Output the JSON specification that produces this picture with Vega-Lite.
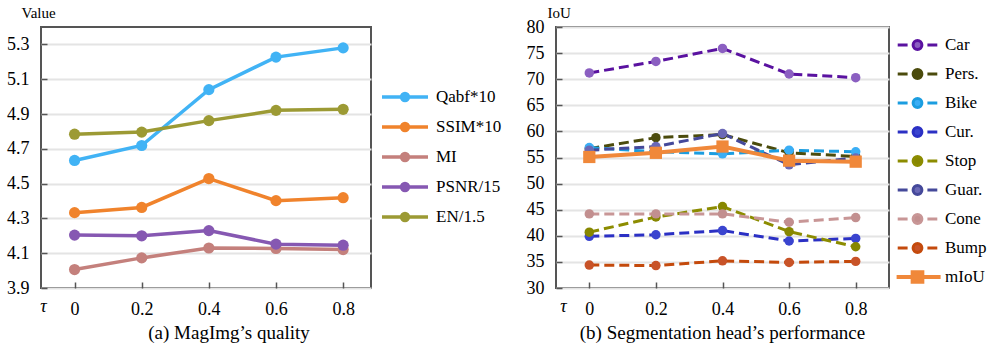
{
  "$schema": "https://vega.github.io/schema/vega-lite/v6.json",
  "padding": {"left": 5, "top": 4, "right": 0, "bottom": 0},
  "background": "white",
  "bounds": "flush",
  "spacing": 185,
  "resolve": {
    "scale": {"color": "independent", "fill": "independent"},
    "legend": {"color": "independent", "fill": "independent"}
  },
  "config": {
    "font": "Liberation Serif",
    "view": {"stroke": "#555555", "strokeWidth": 2},
    "axis": {
      "labelFont": "Liberation Serif",
      "titleFont": "Liberation Serif",
      "labelFontSize": 18,
      "labelColor": "#000000",
      "titleColor": "#000000",
      "titleFontWeight": "normal",
      "gridColor": "#e4e4e4",
      "gridWidth": 2,
      "domain": false,
      "tickColor": "#555555",
      "tickWidth": 1.5,
      "tickSize": -6,
      "labelPadding": 18,
      "labelFlush": false,
      "labelOverlap": false
    },
    "legend": {
      "labelFont": "Liberation Serif",
      "labelFontSize": 17,
      "labelColor": "#000000",
      "padding": 0
    }
  },
  "datasets": {
    "quality": [
      {"tau": 0, "metric": "Qabf*10", "value": 4.633},
      {"tau": 0.2, "metric": "Qabf*10", "value": 4.719},
      {"tau": 0.4, "metric": "Qabf*10", "value": 5.040},
      {"tau": 0.6, "metric": "Qabf*10", "value": 5.227},
      {"tau": 0.8, "metric": "Qabf*10", "value": 5.280},
      {"tau": 0, "metric": "SSIM*10", "value": 4.333},
      {"tau": 0.2, "metric": "SSIM*10", "value": 4.363},
      {"tau": 0.4, "metric": "SSIM*10", "value": 4.529},
      {"tau": 0.6, "metric": "SSIM*10", "value": 4.402},
      {"tau": 0.8, "metric": "SSIM*10", "value": 4.419},
      {"tau": 0, "metric": "MI", "value": 4.006},
      {"tau": 0.2, "metric": "MI", "value": 4.073},
      {"tau": 0.4, "metric": "MI", "value": 4.130},
      {"tau": 0.6, "metric": "MI", "value": 4.127},
      {"tau": 0.8, "metric": "MI", "value": 4.121},
      {"tau": 0, "metric": "PSNR/15", "value": 4.204},
      {"tau": 0.2, "metric": "PSNR/15", "value": 4.200},
      {"tau": 0.4, "metric": "PSNR/15", "value": 4.230},
      {"tau": 0.6, "metric": "PSNR/15", "value": 4.152},
      {"tau": 0.8, "metric": "PSNR/15", "value": 4.146},
      {"tau": 0, "metric": "EN/1.5", "value": 4.784},
      {"tau": 0.2, "metric": "EN/1.5", "value": 4.796},
      {"tau": 0.4, "metric": "EN/1.5", "value": 4.862},
      {"tau": 0.6, "metric": "EN/1.5", "value": 4.921},
      {"tau": 0.8, "metric": "EN/1.5", "value": 4.927}
    ],
    "seg": [
      {"tau": 0, "cls": "Car", "iou": 71.2},
      {"tau": 0.2, "cls": "Car", "iou": 73.4},
      {"tau": 0.4, "cls": "Car", "iou": 75.9},
      {"tau": 0.6, "cls": "Car", "iou": 71.0},
      {"tau": 0.8, "cls": "Car", "iou": 70.3},
      {"tau": 0, "cls": "Pers.", "iou": 56.7},
      {"tau": 0.2, "cls": "Pers.", "iou": 58.8},
      {"tau": 0.4, "cls": "Pers.", "iou": 59.4},
      {"tau": 0.6, "cls": "Pers.", "iou": 55.9},
      {"tau": 0.8, "cls": "Pers.", "iou": 55.2},
      {"tau": 0, "cls": "Bike", "iou": 56.9},
      {"tau": 0.2, "cls": "Bike", "iou": 56.1},
      {"tau": 0.4, "cls": "Bike", "iou": 55.7},
      {"tau": 0.6, "cls": "Bike", "iou": 56.4},
      {"tau": 0.8, "cls": "Bike", "iou": 56.1},
      {"tau": 0, "cls": "Cur.", "iou": 39.9},
      {"tau": 0.2, "cls": "Cur.", "iou": 40.2},
      {"tau": 0.4, "cls": "Cur.", "iou": 41.0},
      {"tau": 0.6, "cls": "Cur.", "iou": 39.0},
      {"tau": 0.8, "cls": "Cur.", "iou": 39.5},
      {"tau": 0, "cls": "Stop", "iou": 40.7},
      {"tau": 0.2, "cls": "Stop", "iou": 43.6},
      {"tau": 0.4, "cls": "Stop", "iou": 45.6},
      {"tau": 0.6, "cls": "Stop", "iou": 40.8},
      {"tau": 0.8, "cls": "Stop", "iou": 37.9},
      {"tau": 0, "cls": "Guar.", "iou": 56.4},
      {"tau": 0.2, "cls": "Guar.", "iou": 57.1},
      {"tau": 0.4, "cls": "Guar.", "iou": 59.6},
      {"tau": 0.6, "cls": "Guar.", "iou": 53.6},
      {"tau": 0.8, "cls": "Guar.", "iou": 54.9},
      {"tau": 0, "cls": "Cone", "iou": 44.2},
      {"tau": 0.2, "cls": "Cone", "iou": 44.2},
      {"tau": 0.4, "cls": "Cone", "iou": 44.2},
      {"tau": 0.6, "cls": "Cone", "iou": 42.6},
      {"tau": 0.8, "cls": "Cone", "iou": 43.5},
      {"tau": 0, "cls": "Bump", "iou": 34.4},
      {"tau": 0.2, "cls": "Bump", "iou": 34.3},
      {"tau": 0.4, "cls": "Bump", "iou": 35.2},
      {"tau": 0.6, "cls": "Bump", "iou": 34.9},
      {"tau": 0.8, "cls": "Bump", "iou": 35.1},
      {"tau": 0, "cls": "mIoU", "iou": 55.1},
      {"tau": 0.2, "cls": "mIoU", "iou": 55.9},
      {"tau": 0.4, "cls": "mIoU", "iou": 57.1},
      {"tau": 0.6, "cls": "mIoU", "iou": 54.4},
      {"tau": 0.8, "cls": "mIoU", "iou": 54.2}
    ]
  },
  "hconcat": [
    {
      "width": 330,
      "height": 261,
      "title": {"text": "(a) MagImg’s quality", "orient": "bottom", "anchor": "middle", "dx": 23, "offset": 6, "fontSize": 19, "font": "Liberation Serif", "fontWeight": "normal", "color": "#000000"},
      "data": {"name": "quality"},
      "encoding": {
        "x": {
          "field": "tau", "type": "quantitative",
          "scale": {"domain": [-0.1, 0.883], "nice": false, "zero": false},
          "axis": {"values": [0, 0.2, 0.4, 0.6, 0.8], "format": "~g", "grid": false, "labelFont": "Liberation Serif", "title": "τ", "titleFont": "Liberation Serif", "titleX": 2, "titleY": 23, "titleAlign": "center", "titleBaseline": "alphabetic", "titleFontSize": 18, "titleFontStyle": "italic"}
        },
        "y": {
          "field": "value", "type": "quantitative",
          "scale": {"domain": [3.9, 5.4], "nice": false, "zero": false},
          "axis": {"values": [3.9, 4.1, 4.3, 4.5, 4.7, 4.9, 5.1, 5.3], "format": ".1f", "grid": true, "labelFont": "Liberation Serif", "title": "Value", "titleFont": "Liberation Serif", "titleAngle": 0, "titleAlign": "left", "titleBaseline": "alphabetic", "titleX": -20, "titleY": -10, "titleFontSize": 15}
        }
      },
      "layer": [
        {
          "mark": {"type": "line", "strokeWidth": 3.5},
          "encoding": {
            "color": {
              "field": "metric", "type": "nominal",
              "scale": {"domain": ["Qabf*10", "SSIM*10", "MI", "PSNR/15", "EN/1.5"], "range": ["#41b3f5", "#f0832c", "#c4807c", "#8658b2", "#9c9a34"]},
              "legend": {
                "orient": "none", "legendX": 339, "legendY": 62, "title": null,
                "labelFont": "Liberation Serif", "labelFontSize": 17,
                "labelOffset": 6, "rowPadding": 13, "clipHeight": 16,
                "symbolSize": 2116, "symbolStrokeWidth": 3.5,
                "symbolType": "M-1,0L1,0M0.15,0A0.15,0.15 0 1,1 -0.15,0A0.15,0.15 0 1,1 0.15,0Z",
                "encode": {"symbols": {"update": {"fill": {"signal": "(datum.value === 'Qabf*10' ? '#41b3f5' : datum.value === 'SSIM*10' ? '#f0832c' : datum.value === 'MI' ? '#c4807c' : datum.value === 'PSNR/15' ? '#8658b2' : '#9c9a34')"}, "opacity": {"value": 1}}}}
              }
            }
          }
        },
        {
          "mark": {"type": "point", "filled": true, "size": 125, "opacity": 1},
          "encoding": {
            "fill": {
              "field": "metric", "type": "nominal",
              "scale": {"domain": ["Qabf*10", "SSIM*10", "MI", "PSNR/15", "EN/1.5"], "range": ["#41b3f5", "#f0832c", "#c4807c", "#8658b2", "#9c9a34"]},
              "legend": null
            }
          }
        }
      ]
    },
    {
      "width": 333,
      "height": 261,
      "title": {"text": "(b) Segmentation head’s performance", "orient": "bottom", "anchor": "middle", "dx": 0, "offset": 6, "fontSize": 19, "font": "Liberation Serif", "fontWeight": "normal", "color": "#000000"},
      "data": {"name": "seg"},
      "encoding": {
        "x": {
          "field": "tau", "type": "quantitative",
          "scale": {"domain": [-0.1, 0.9], "nice": false, "zero": false},
          "axis": {"values": [0, 0.2, 0.4, 0.6, 0.8], "format": "~g", "grid": false, "labelFont": "Liberation Serif", "title": "τ", "titleFont": "Liberation Serif", "titleX": 7, "titleY": 23, "titleAlign": "center", "titleBaseline": "alphabetic", "titleFontSize": 18, "titleFontStyle": "italic"}
        },
        "y": {
          "field": "iou", "type": "quantitative",
          "scale": {"domain": [30, 80], "nice": false, "zero": false},
          "axis": {"values": [30, 35, 40, 45, 50, 55, 60, 65, 70, 75, 80], "format": "d", "grid": true, "labelFont": "Liberation Serif", "title": "IoU", "titleFont": "Liberation Serif", "titleAngle": 0, "titleAlign": "left", "titleBaseline": "alphabetic", "titleX": -9, "titleY": -10, "titleFontSize": 15}
        }
      },
      "layer": [
        {
          "transform": [{"filter": "datum.cls !== 'mIoU'"}],
          "mark": {"type": "line", "strokeWidth": 3, "strokeDash": [10, 5]},
          "encoding": {
            "color": {
              "field": "cls", "type": "nominal",
              "scale": {"domain": ["Car", "Pers.", "Bike", "Cur.", "Stop", "Guar.", "Cone", "Bump", "mIoU"], "range": ["#5a12a0", "#4b4b0c", "#1b9de0", "#2b30c4", "#8c8c00", "#45499a", "#c89696", "#c44a0c", "#f0883a"]},
              "legend": {
                "orient": "none", "legendX": 338, "legendY": 10, "title": null,
                "labelFont": "Liberation Serif", "labelFontSize": 17,
                "labelOffset": 4, "rowPadding": 12, "clipHeight": 16,
                "symbolSize": 1936, "symbolStrokeWidth": 3,
                "symbolDash": [],
                "symbolType": "M-0.9,0L-0.45,0M0.45,0L0.9,0M0.2,0A0.2,0.2 0 1,1 -0.2,0A0.2,0.2 0 1,1 0.2,0Z",
                "encode": {"symbols": {"update": {
                  "shape": {"signal": "(datum.value === 'mIoU' ? 'M-0.95,0L1.05,0M-0.22,-0.22L0.22,-0.22L0.22,0.22L-0.22,0.22Z' : 'M-0.9,0L-0.45,0M0.45,0L0.9,0M0.2,0A0.2,0.2 0 1,1 -0.2,0A0.2,0.2 0 1,1 0.2,0Z')"},
                  "strokeWidth": {"signal": "(datum.value === 'mIoU' ? 4 : 3)"},
                  "strokeDash": {"value": []},
                  "fill": {"signal": "(datum.value === 'Car' ? '#8b5fc1' : datum.value === 'Pers.' ? '#4b4b0c' : datum.value === 'Bike' ? '#3aaef5' : datum.value === 'Cur.' ? '#3a44cf' : datum.value === 'Stop' ? '#878700' : datum.value === 'Guar.' ? '#6a68b6' : datum.value === 'Cone' ? '#c28f8f' : datum.value === 'Bump' ? '#c85328' : '#f0883a')"},
                  "opacity": {"value": 1}
                }}}
              }
            }
          }
        },
        {
          "transform": [{"filter": "datum.cls !== 'mIoU'"}],
          "mark": {"type": "point", "filled": true, "size": 90, "opacity": 1},
          "encoding": {
            "fill": {
              "field": "cls", "type": "nominal",
              "scale": {"domain": ["Car", "Pers.", "Bike", "Cur.", "Stop", "Guar.", "Cone", "Bump"], "range": ["#8b5fc1", "#4b4b0c", "#3aaef5", "#3a44cf", "#878700", "#6a68b6", "#c28f8f", "#c85328"]},
              "legend": null
            }
          }
        },
        {
          "transform": [{"filter": "datum.cls === 'mIoU'"}],
          "mark": {"type": "line", "strokeWidth": 4, "color": "#f0883a"},
          "encoding": {}
        },
        {
          "transform": [{"filter": "datum.cls === 'mIoU'"}],
          "mark": {"type": "point", "shape": "square", "filled": true, "size": 150, "opacity": 1, "color": "#f0883a"},
          "encoding": {}
        }
      ]
    }
  ]
}
